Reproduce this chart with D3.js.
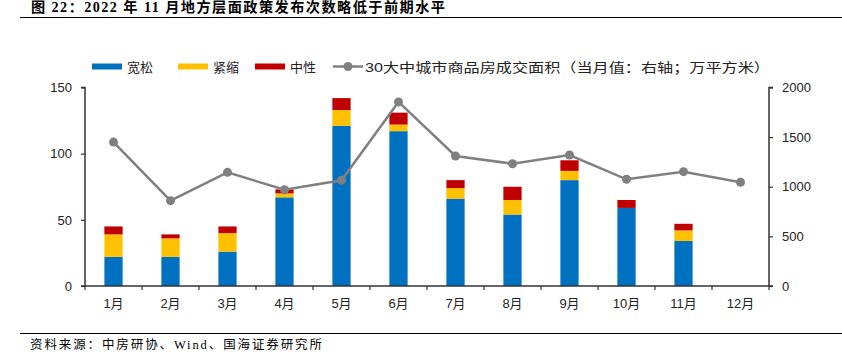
<!DOCTYPE html>
<html><head><meta charset="utf-8">
<script src="https://cdn.jsdelivr.net/npm/d3@7"></script>
<style>body{margin:0;background:#fff}svg{display:block}</style>
</head><body>
<svg id="c" width="842" height="359"></svg>
<script>
const months = ["1月","2月","3月","4月","5月","6月","7月","8月","9月","10月","11月","12月"];
const loose = [22,22,26,67,121,117,66,54,80,59,34,0];
const tight = [17,14,14,3,12,5,8,11,7,0,8,0];
const neutral = [6,3,5,3,9,9,6,10,8,6,5,0];
const area = [1450,860,1145,970,1065,1855,1310,1232,1320,1075,1152,1045];
const leftTicks = [0,50,100,150];
const rightTicks = [0,500,1000,1500,2000];
const seriesNames = ["宽松","紧缩","中性"];
const lineName = "30大中城市商品房成交面积（当月值：右轴；万平方米）";
const colors = ["#0070C0","#FFC000","#C00000"];
const lineColor = "#808080";

const svg = d3.select("#c");
const L = 85, R = 769, T = 87.5, B = 286;
const x = d3.scaleBand().domain(months).range([L, R]).paddingInner(0.68).paddingOuter(0.34);
const yL = d3.scaleLinear().domain([0,150]).range([B,T]);
const yR = d3.scaleLinear().domain([0,2000]).range([B,T]);
const font = "'Liberation Sans', Arial, 'Noto Sans CJK SC', sans-serif";

// title
svg.append("text").attr("x",31).attr("y",11.5)
  .attr("font-family","'Liberation Serif','Noto Sans CJK SC',serif").attr("font-weight","bold")
  .attr("font-size",14.2).attr("fill","#000")
  .attr("textLength",414).attr("lengthAdjust","spacing")
  .text("图 22：2022 年 11 月地方层面政策发布次数略低于前期水平");
svg.append("line").attr("x1",20).attr("x2",842).attr("y1",17.5).attr("y2",17.5).attr("stroke","#000").attr("stroke-width",1.2);
svg.append("line").attr("x1",20).attr("x2",842).attr("y1",333.5).attr("y2",333.5).attr("stroke","#000").attr("stroke-width",1);
svg.append("text").attr("x",30).attr("y",349)
  .attr("font-family","'Liberation Serif','Noto Sans CJK SC',serif")
  .attr("font-size",12.5).attr("fill","#000")
  .attr("textLength",292).attr("lengthAdjust","spacing")
  .text("资料来源：中房研协、Wind、国海证券研究所");

// bars
const data = months.map((m,i)=>({m, v:[loose[i],tight[i],neutral[i]]}));
const g = svg.append("g");
data.forEach(d=>{
  let acc = 0;
  d.v.forEach((v,k)=>{
    if (v<=0) return;
    g.append("rect").attr("x",x(d.m)).attr("width",x.bandwidth())
      .attr("y",yL(acc+v)).attr("height",yL(acc)-yL(acc+v)).attr("fill",colors[k]);
    acc += v;
  });
});

// line
const cx = m => x(m)+x.bandwidth()/2;
svg.append("path").datum(area.map((v,i)=>[cx(months[i]),yR(v)]))
  .attr("d",d3.line()).attr("fill","none").attr("stroke",lineColor).attr("stroke-width",2.5);
svg.selectAll("circle.pt").data(area).enter().append("circle")
  .attr("cx",(v,i)=>cx(months[i])).attr("cy",v=>yR(v)).attr("r",4.5).attr("fill",lineColor);

// axes
const axisColor = "#333";
const gl = svg.append("g").attr("transform",`translate(${L},0)`)
  .call(d3.axisLeft(yL).tickValues(leftTicks).tickFormat(d3.format("d")).tickSize(4).tickPadding(9));
const gr = svg.append("g").attr("transform",`translate(${R},0)`)
  .call(d3.axisRight(yR).tickValues(rightTicks).tickFormat(d3.format("d")).tickSize(4).tickPadding(9));
const gx = svg.append("g").attr("transform",`translate(0,${B})`)
  .call(d3.axisBottom(x).tickSize(0).tickPadding(13));
// category boundary ticks
const step = x.step();
d3.range(13).forEach(i=>{
  const xx = L + i*step;
  svg.append("line").attr("x1",xx).attr("x2",xx).attr("y1",B).attr("y2",B+4).attr("stroke",axisColor).attr("stroke-width",1.2);
});
[gl,gr,gx].forEach(a=>{
  a.select(".domain").attr("stroke",axisColor).attr("stroke-width",1.5);
  a.selectAll(".tick line").attr("stroke",axisColor).attr("stroke-width",1.2);
  a.selectAll("text").attr("font-family",font).attr("font-size",13).attr("fill","#222");
});
gl.select(".domain").attr("d",`M-4,${T}H0V${B}H-4`);
gr.select(".domain").attr("d",`M4,${T}H0V${B}H4`);
gx.select(".domain").attr("d",`M${L},0H${R}`);

// legend
const lg = svg.append("g").attr("font-family",font).attr("font-size",13).attr("fill","#222");
const items = [[92,0],[178,1],[255,2]];
items.forEach(([lx,k])=>{
  lg.append("rect").attr("x",lx).attr("y",63.5).attr("width",30).attr("height",6).attr("fill",colors[k]);
  lg.append("text").attr("x",lx+35).attr("y",71.5).text(seriesNames[k]);
});
lg.append("line").attr("x1",333).attr("x2",363).attr("y1",66.5).attr("y2",66.5).attr("stroke",lineColor).attr("stroke-width",2.5);
lg.append("circle").attr("cx",348).attr("cy",66.5).attr("r",4.5).attr("fill",lineColor);
lg.append("text").attr("x",365).attr("y",71.5).attr("textLength",405).attr("lengthAdjust","spacingAndGlyphs").text(lineName);
</script>
</body></html>
